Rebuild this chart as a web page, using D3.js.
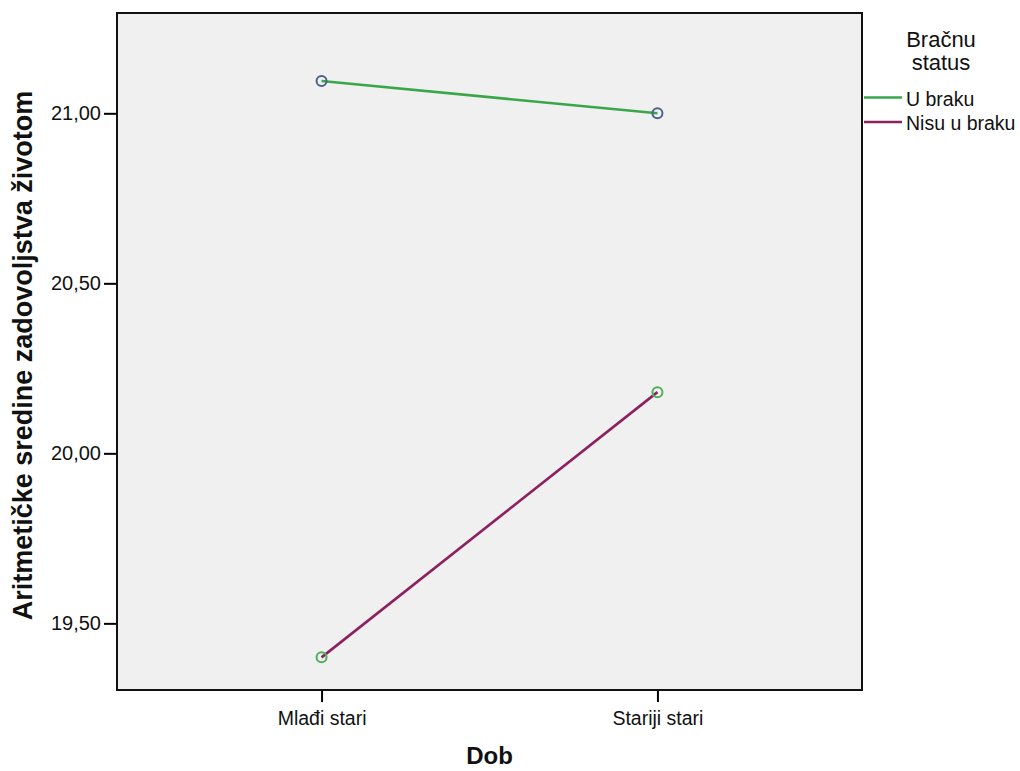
<!DOCTYPE html>
<html>
<head>
<meta charset="utf-8">
<script src="https://cdn.jsdelivr.net/npm/d3@7"></script>
<style>
  html, body { margin: 0; padding: 0; background: #ffffff; }
  svg { display: block; }
</style>
</head>
<body>
<svg id="chart" width="1020" height="771"></svg>
<script>
// ---- data ----
const categories = ["Mlađi stari", "Stariji stari"];
const seriesNames = ["U braku", "Nisu u braku"];
const uBraku = [21.095, 21.00];
const nisuUBraku = [19.40, 20.18];
const yTicks = [19.5, 20.0, 20.5, 21.0];
const yDomain = [19.304, 21.295];
const lineColors = ["#3aa64a", "#8c2160"];
const markerColors = ["#4a6287", "#4fae5c"];

const svg = d3.select("#chart");
const plot = { left: 117, top: 13, right: 862, bottom: 690 };
const FONT = "Liberation Sans, Arial, sans-serif";

const x = d3.scalePoint().domain(categories).range([plot.left, plot.right]).padding(0.609);
const y = d3.scaleLinear().domain(yDomain).range([plot.bottom, plot.top]);

// background
svg.append("rect")
  .attr("x", plot.left).attr("y", plot.top)
  .attr("width", plot.right - plot.left).attr("height", plot.bottom - plot.top)
  .attr("fill", "#f0f0f0");

const fmt = d => d.toFixed(2).replace(".", ",");

// axes
const yAxis = svg.append("g")
  .attr("transform", `translate(${plot.left},0)`)
  .call(d3.axisLeft(y).tickValues(yTicks).tickFormat(fmt).tickSize(13).tickSizeOuter(0));
yAxis.select(".domain").remove();
yAxis.selectAll(".tick line").attr("stroke", "#000").attr("stroke-width", 2);
yAxis.selectAll(".tick text")
  .attr("font-family", FONT)
  .attr("font-size", 20).attr("fill", "#111").attr("x", -16);

const xAxis = svg.append("g")
  .attr("transform", `translate(0,${plot.bottom})`)
  .call(d3.axisBottom(x).tickSize(12).tickSizeOuter(0));
xAxis.select(".domain").remove();
xAxis.selectAll(".tick line").attr("stroke", "#000").attr("stroke-width", 2);
xAxis.selectAll(".tick text")
  .attr("font-family", FONT)
  .attr("font-size", 19.5).attr("fill", "#111")
  .attr("y", 35).attr("dy", null);

// frame
svg.append("rect")
  .attr("x", plot.left).attr("y", plot.top)
  .attr("width", plot.right - plot.left).attr("height", plot.bottom - plot.top)
  .attr("fill", "none").attr("stroke", "#111").attr("stroke-width", 2);

// lines
const series = [uBraku, nisuUBraku];
const line = d3.line().x((d, i) => x(categories[i])).y(d => y(d));
series.forEach((vals, s) => {
  svg.append("path")
    .datum(vals)
    .attr("d", line)
    .attr("fill", "none")
    .attr("stroke", lineColors[s])
    .attr("stroke-width", 2.6);
  svg.selectAll(null)
    .data(vals)
    .enter().append("circle")
    .attr("cx", (d, i) => x(categories[i]))
    .attr("cy", d => y(d))
    .attr("r", 5)
    .attr("fill", "none")
    .attr("stroke", markerColors[s])
    .attr("stroke-width", 2);
});

// axis titles
svg.append("text")
  .attr("transform", `translate(32,${(plot.top + plot.bottom) / 2 + 4}) rotate(-90)`)
  .attr("text-anchor", "middle")
  .attr("font-family", FONT)
  .attr("font-weight", "bold")
  .attr("font-size", 27)
  .attr("fill", "#111")
  .text("Aritmetičke sredine zadovoljstva životom");

svg.append("text")
  .attr("x", (plot.left + plot.right) / 2)
  .attr("y", 764)
  .attr("text-anchor", "middle")
  .attr("font-family", FONT)
  .attr("font-weight", "bold")
  .attr("font-size", 24)
  .attr("fill", "#111")
  .text("Dob");

// legend
const lg = svg.append("g");
["Bračnu", "status"].forEach((t, i) => {
  lg.append("text")
    .attr("x", 941).attr("y", 47 + i * 23)
    .attr("text-anchor", "middle")
    .attr("font-family", FONT)
    .attr("font-size", 22)
    .attr("fill", "#111")
    .text(t);
});
seriesNames.forEach((name, i) => {
  const yy = 97.5 + i * 24.5;
  lg.append("line")
    .attr("x1", 864).attr("x2", 902).attr("y1", yy).attr("y2", yy)
    .attr("stroke", lineColors[i]).attr("stroke-width", 2.6);
  lg.append("text")
    .attr("x", 906).attr("y", yy + 8)
    .attr("font-family", FONT)
    .attr("font-size", 19.5)
    .attr("fill", "#111")
    .text(name);
});
</script>
</body>
</html>
